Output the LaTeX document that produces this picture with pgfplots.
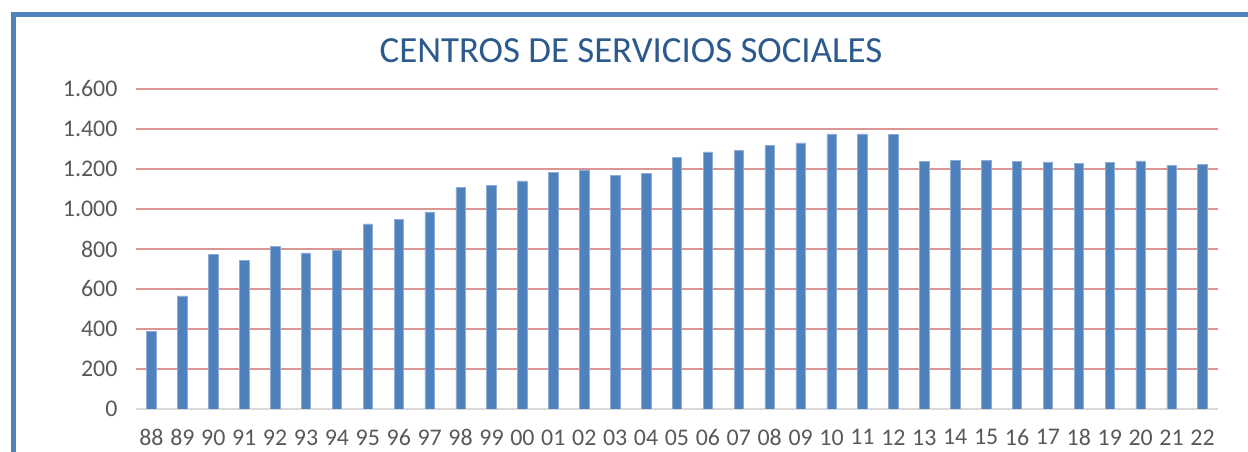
\documentclass[border=0pt]{standalone}
\usepackage{pgfplots}
\pgfplotsset{compat=1.18}
\usepackage{fontspec}
\setmainfont{Carlito}
\definecolor{barblue}{HTML}{4F81BD}
\definecolor{gridred}{HTML}{D99694}
\definecolor{titleblue}{HTML}{2C5A8C}
\definecolor{ticktext}{HTML}{595959}
\pgfplotstableread{
x val
0 388
1 565
2 773
3 743
4 813
5 780
6 795
7 925
8 948
9 985
10 1107
11 1118
12 1140
13 1182
14 1195
15 1167
16 1178
17 1258
18 1285
19 1293
20 1318
21 1330
22 1375
23 1375
24 1373
25 1238
26 1243
27 1243
28 1238
29 1235
30 1228
31 1233
32 1240
33 1217
34 1222
}\datatable
\begin{document}
\begin{tikzpicture}[x=1bp,y=1bp]
\useasboundingbox (0,0) rectangle (1248,452);
\draw[barblue, line width=5bp] (13.5,-10) -- (13.5,437.5) -- (1260,437.5);
\node[anchor=base, font=\fontsize{37}{42}\selectfont, text=titleblue, inner sep=0pt] at (631,389) {CENTROS DE SERVICIOS SOCIALES};
\begin{axis}[
  at={(136bp,43bp)}, anchor=south west,
  width=1082bp, height=320bp, scale only axis,
  xmin=-0.5, xmax=34.5, ymin=0, ymax=1600,
  ytick={0,200,...,1600},
  xtick={0,1,...,34},
  xticklabels={88,89,90,91,92,93,94,95,96,97,98,99,00,01,02,03,04,05,06,07,08,09,10,11,12,13,14,15,16,17,18,19,20,21,22},
  ymajorgrids, grid style={gridred, line width=1.5bp},
  axis x line*=bottom, axis y line*=left,
  y axis line style={draw=none},
  x axis line style={draw=black!15, line width=1.5bp},
  major tick length=0pt,
  tick label style={font=\fontsize{24}{28}\selectfont, text=ticktext},
  xticklabel style={yshift=-17bp},
  yticklabel style={xshift=-15bp},
  /pgf/number format/.cd, 1000 sep={.}, assume math mode=true,
]
\addplot[ybar, bar width=9.5bp, fill=barblue, draw=barblue!65!white, line width=0.6bp] table[x=x, y=val] {\datatable};
\end{axis}
\end{tikzpicture}
\end{document}
